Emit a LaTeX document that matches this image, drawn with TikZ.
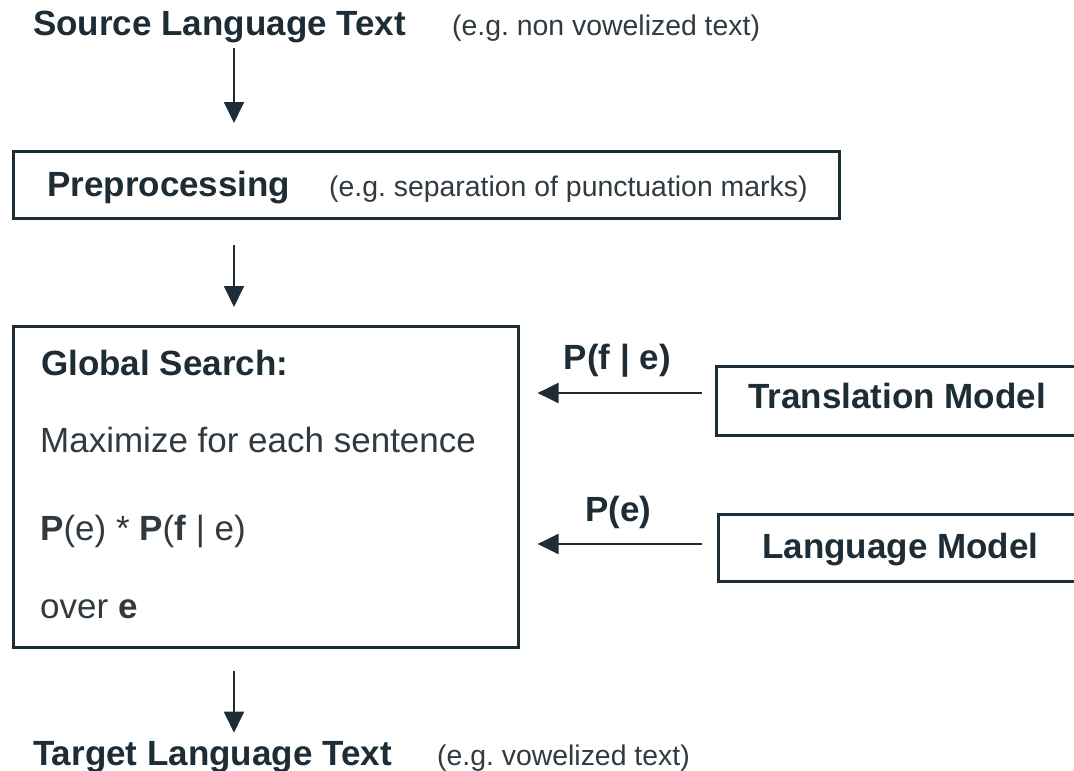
\documentclass[tikz,border=0pt]{standalone}
\usepackage{fontspec}
\setmainfont{Liberation Sans}
\usetikzlibrary{arrows.meta}
\definecolor{ink}{RGB}{30,44,54}
\definecolor{softink}{RGB}{48,58,64}
\frenchspacing
\begin{document}
\begin{tikzpicture}[x=1pt,y=-1pt,
  box/.style={draw=ink, line width=2.6pt, anchor=north west, inner sep=0pt},
  big/.style={font=\fontsize{35}{40}\selectfont\bfseries, text=ink, anchor=base west, inner sep=0pt},
  plain/.style={font=\fontsize{35}{40}\selectfont, text=softink, anchor=base west, inner sep=0pt},
  note/.style={font=\fontsize{28.4}{32}\selectfont, text=softink, anchor=base west, inner sep=0pt},
  arr/.style={draw=ink, line width=1.9pt, -{Triangle[length=21pt,width=20pt]}},
  harr/.style={arr, line width=2.6pt},
  plabel/.style={font=\fontsize{35}{40}\selectfont\bfseries, text=ink, inner sep=0pt}]
\useasboundingbox (0,0) rectangle (1074,771);

% vertical flow axis and arrow rows
\coordinate (axis) at (234,0);
\coordinate (rowtm) at (0,393);
\coordinate (rowlm) at (0,544);

% source
\node[big] (src) at (33,35) {Source Language Text};
\node[note] (srcnote) at (452,35) {(e.g. non vowelized text)};

% preprocessing
\node[box, minimum width=826pt, minimum height=67pt] (pre) at (12,150) {};
\node[big] (pretxt) at (47,196) {Preprocessing};
\node[note] (prenote) at (329,196) {(e.g. separation of punctuation marks)};

% global search
\node[box, minimum width=505pt, minimum height=321pt] (gs) at (12,325) {};
\node[big] (gs1) at (41,375) {Global Search:};
\node[plain] (gs2) at (40,452) {Maximize for each sentence};
\node[plain] (gs3) at (40,540) {\textbf{P}(e) * \textbf{P}(\textbf{f} | e)};
\node[plain] (gs4) at (40,618) {over \textbf{e}};

% models
\node[box, minimum width=380pt, minimum height=69pt] (tm) at (715,365) {};
\node[big] (tmtxt) at (748,408) {Translation Model};
\node[box, minimum width=380pt, minimum height=67pt] (lm) at (717,513) {};
\node[big] (lmtxt) at (762,558) {Language Model};

% target
\node[big] (tgt) at (33,765) {Target Language Text};
\node[note] (tgtnote) at (437,765) {(e.g. vowelized text)};

% flow arrows
\draw[arr, shorten <=13pt, shorten >=27pt] (src.base -| axis) -- (pre.north -| axis);
\draw[arr, shorten <=25pt, shorten >=18pt] (pre.south -| axis) -- (gs.north -| axis);
\draw[arr, shorten <=22pt, shorten >=8pt] (gs.south -| axis) -- (tgt.north -| axis);

% model inputs
\draw[harr, shorten <=13pt, shorten >=18pt] (tm.west |- rowtm) -- (gs.east |- rowtm)
  node[midway, above=14pt, plabel] (ltm) {P(f | e)};
\draw[harr, shorten <=15pt, shorten >=18pt] (lm.west |- rowlm) -- (gs.east |- rowlm)
  node[midway, above=14pt, plabel] (llm) {P(e)};
\end{tikzpicture}
\end{document}
